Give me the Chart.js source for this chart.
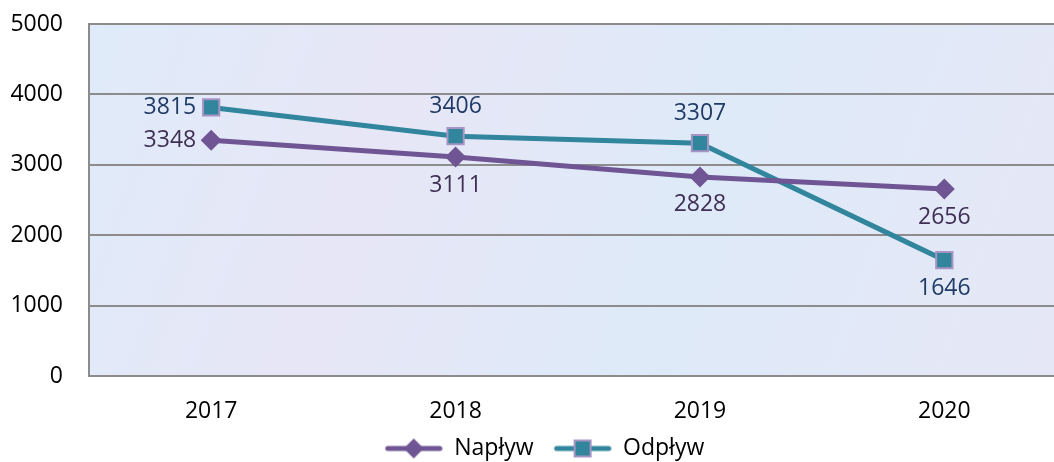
<!DOCTYPE html>
<html>
<head>
<meta charset="utf-8">
<script src="https://cdn.jsdelivr.net/npm/chart.js@4/dist/chart.umd.min.js"></script>
<style>
  html, body { margin: 0; padding: 0; background: #fff; overflow: hidden; }
  #wrap { position: relative; width: 1080px; height: 462px; }
</style>
</head>
<body>
<div id="wrap"><canvas id="chart"></canvas></div>
<script>
// Chart data
const years = ['2017', '2018', '2019', '2020'];
const naplyw = [3348, 3111, 2828, 2656];
const odplyw = [3815, 3406, 3307, 1646];
const yTicks = [0, 1000, 2000, 3000, 4000, 5000];

// Label placement per point: 'left', 'above', 'below'
const naplywLabelPos = ['left', 'below', 'below', 'below'];
const odplywLabelPos = ['left', 'above', 'above', 'below'];

const FONT = "'Open Sans', 'Noto Sans', sans-serif";
const PURPLE = '#6f5594';
const TEAL = '#31859c';

// Build a legend icon: line with marker in the middle (transparent lead-in on the left)
function legendIcon(color, shape, border) {
  const c = document.createElement('canvas');
  c.width = 70; c.height = 22;
  const g = c.getContext('2d');
  g.strokeStyle = color;
  g.lineWidth = 5;
  g.lineCap = 'round';
  g.beginPath();
  g.moveTo(15, 11);
  g.lineTo(67, 11);
  g.stroke();
  g.fillStyle = color;
  if (shape === 'diamond') {
    g.beginPath();
    g.moveTo(41, 1); g.lineTo(51, 11); g.lineTo(41, 21); g.lineTo(31, 11);
    g.closePath();
    g.fill();
  } else {
    g.fillRect(33, 3, 16, 16);
    g.strokeStyle = border;
    g.lineWidth = 2;
    g.strokeRect(33, 3, 16, 16);
  }
  return c;
}

// Pale background for the plot area
const plotBackground = {
  id: 'plotBackground',
  beforeDraw(chart) {
    const { ctx, chartArea: a } = chart;
    const grad = ctx.createLinearGradient(a.left, a.top, a.right, a.bottom);
    grad.addColorStop(0, '#dfebf9');
    grad.addColorStop(0.3, '#e7e6f6');
    grad.addColorStop(0.6, '#deeaf8');
    grad.addColorStop(1, '#e6e7f6');
    ctx.save();
    ctx.fillStyle = grad;
    ctx.fillRect(a.left, a.top, a.right - a.left, a.bottom - a.top);
    ctx.restore();
  }
};

// Value labels next to each point
const pointLabels = {
  id: 'pointLabels',
  afterDatasetsDraw(chart) {
    const { ctx } = chart;
    ctx.save();
    ctx.font = `23px ${FONT}`;
    ctx.textBaseline = 'middle';
    chart.data.datasets.forEach((ds, di) => {
      const meta = chart.getDatasetMeta(di);
      meta.data.forEach((pt, i) => {
        const pos = ds.labelPos[i];
        const text = String(ds.data[i]);
        ctx.fillStyle = ds.labelColor;
        if (pos === 'left') {
          ctx.textAlign = 'right';
          ctx.fillText(text, pt.x - 15, pt.y);
        } else if (pos === 'above') {
          ctx.textAlign = 'center';
          ctx.fillText(text, pt.x, pt.y - 30);
        } else {
          ctx.textAlign = 'center';
          ctx.fillText(text, pt.x, pt.y + 28);
        }
      });
    });
    ctx.restore();
  }
};

const icons = [legendIcon(PURPLE, 'diamond'), legendIcon(TEAL, 'square', '#a793c4')];

new Chart(document.getElementById('chart'), {
  type: 'line',
  data: {
    labels: years,
    datasets: [
      {
        label: 'Napływ',
        data: naplyw,
        borderColor: PURPLE,
        backgroundColor: PURPLE,
        borderWidth: 5,
        pointStyle: 'rectRot',
        pointRadius: 10.5,
        pointBorderWidth: 0,
        pointBackgroundColor: PURPLE,
        labelPos: naplywLabelPos,
        labelColor: '#3f2f55'
      },
      {
        label: 'Odpływ',
        data: odplyw,
        borderColor: TEAL,
        backgroundColor: TEAL,
        borderWidth: 5,
        pointStyle: 'rect',
        pointRadius: 11.5,
        pointBorderWidth: 2,
        pointBorderColor: '#a793c4',
        pointBackgroundColor: TEAL,
        labelPos: odplywLabelPos,
        labelColor: '#1f3b66'
      }
    ]
  },
  options: {
    responsive: true,
    maintainAspectRatio: false,
    animation: false,
    // negative bottom padding pushes the legend nearer the lower edge;
    // right padding shifts the legend centre back towards the window centre
    layout: { padding: { top: 24, right: 3, left: 0, bottom: -8 } },
    plugins: {
      tooltip: { enabled: false },
      legend: {
        position: 'bottom',
        labels: {
          usePointStyle: true,
          pointStyleWidth: 70,
          font: { family: FONT, size: 23 },
          color: '#000',
          padding: 8,
          generateLabels(chart) {
            const items = Chart.defaults.plugins.legend.labels.generateLabels(chart);
            items.forEach((it, i) => { it.pointStyle = icons[i]; });
            return items;
          }
        }
      }
    },
    scales: {
      x: {
        offset: true,
        grid: { display: false, drawTicks: false },
        border: { display: true, color: '#8c8c8c', width: 2 },
        ticks: { color: '#000', font: { family: FONT, size: 23 }, padding: 22 },
        afterFit(scale) { scale.height = 53; }
      },
      y: {
        min: 0,
        max: 5000,
        afterBuildTicks(scale) { scale.ticks = yTicks.map(v => ({ value: v })); },
        grid: { color: '#8c8c8c', lineWidth: 2, drawTicks: false },
        border: { display: true, color: '#8c8c8c', width: 2 },
        ticks: {
          color: '#000',
          font: { family: FONT, size: 23 },
          padding: 26,
          callback: v => String(v)
        },
        afterFit(scale) {
          scale.width = 89;
          // tick padding would otherwise also push the plot top down
          scale.paddingTop = 0;
          scale.paddingBottom = 0;
        }
      }
    }
  },
  plugins: [plotBackground, pointLabels]
});
</script>
</body>
</html>
